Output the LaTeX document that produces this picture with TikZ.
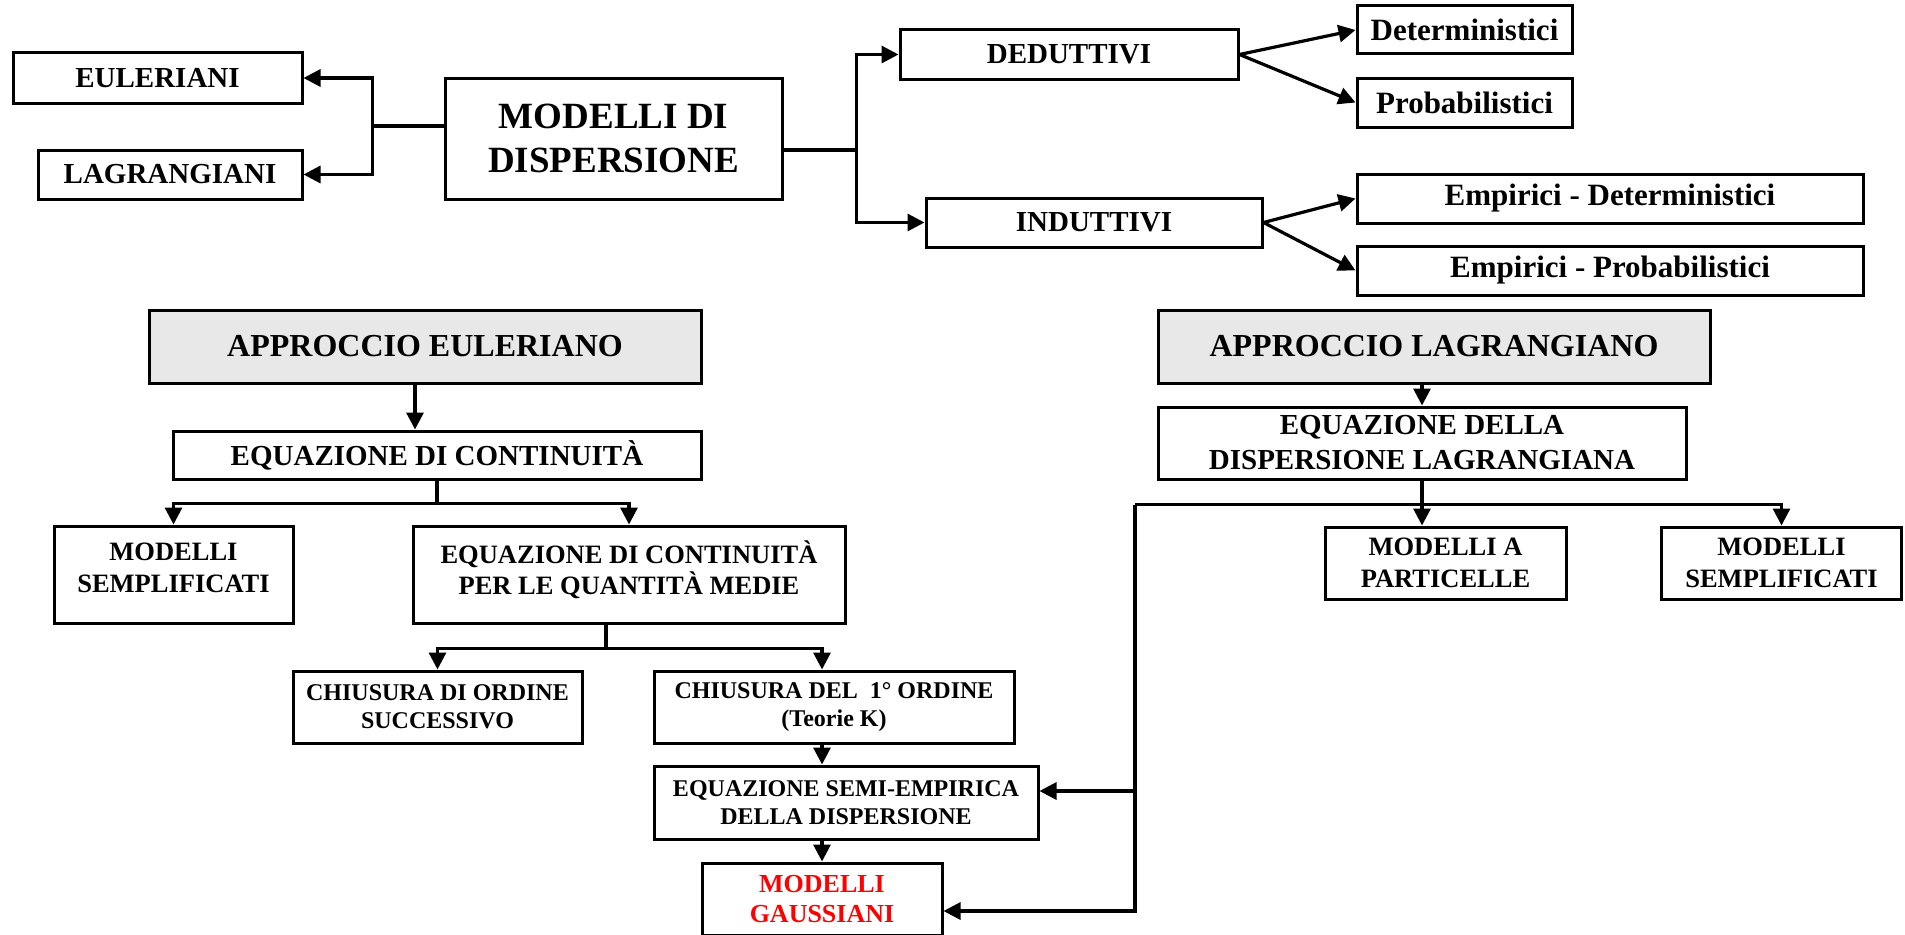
\documentclass[tikz,border=0pt]{standalone}
\usepackage{fontspec}
\setmainfont{Liberation Serif}
\usepackage{tikz}
\usetikzlibrary{calc,arrows.meta}
\definecolor{boxgray}{HTML}{E8E8E8}
\tikzset{
	mbox/.style={draw=black,line width=3pt,inner sep=0pt,align=center},
	gbox/.style={mbox,fill=boxgray},
	conn/.style={draw=black,line width=3.2pt},
	carrow/.style={conn,-{Triangle[length=17pt,width=17pt]}},
	tbig/.style={font=\fontsize{37}{44}\selectfont\bfseries},
	thead/.style={font=\fontsize{32}{38}\selectfont\bfseries},
	tkind/.style={font=\fontsize{31}{37}\selectfont\bfseries},
	tmid/.style={font=\fontsize{29}{35}\selectfont\bfseries},
	tsmall/.style={font=\fontsize{26.5}{31.5}\selectfont\bfseries},
	ttiny/.style={font=\fontsize{24}{28}\selectfont\bfseries}
}

\begin{document}
\begin{tikzpicture}[x=1pt,y=-1pt]
	\useasboundingbox (0,0) rectangle (1905,934);
	\clip (0,0) rectangle (1905,934);
	
	% classificazione
	\node[mbox,tbig,minimum width=337pt,minimum height=121pt] (mod) at (613.5,138.5) {MODELLI DI\\DISPERSIONE};
	\node[mbox,tmid,minimum width=289pt,minimum height=50pt] (eul) at (157.5,78) {EULERIANI};
	\node[mbox,tmid,minimum width=264pt,minimum height=49pt] (lag) at (170,174.5) {LAGRANGIANI};
	\node[mbox,tmid,minimum width=338pt,minimum height=49pt] (ded) at (1069,54.5) {DEDUTTIVI};
	\node[mbox,tmid,minimum width=336pt,minimum height=49pt] (ind) at (1094,222.5) {INDUTTIVI};
	\node[mbox,tkind,minimum width=215pt,minimum height=48pt] (det) at (1464.5,30) {Deterministici};
	\node[mbox,tkind,minimum width=215pt,minimum height=49pt] (prob) at (1464.5,102.5) {Probabilistici};
	\node[mbox,tkind,minimum width=506pt,minimum height=49pt] (empdet) at (1610,198.5) {Empirici - Deterministici};
	\node[mbox,tkind,minimum width=506pt,minimum height=49pt] (empprob) at (1610,270.5) {Empirici - Probabilistici};
	
	\draw[conn] ([yshift=12.5pt]mod.west) -- ++(-71,0) coordinate (lfork);
	\draw[carrow] (lfork) |- (eul.east);
	\draw[carrow] (lfork) |- (lag.east);
	\draw[conn] ([yshift=-11.5pt]mod.east) -- ++(73,0) coordinate (rfork);
	\draw[carrow] (rfork) |- (ded.west);
	\draw[carrow] (rfork) |- (ind.west);
	\draw[carrow] (ded.east) -- (det.west);
	\draw[carrow] (ded.east) -- (prob.west);
	\draw[carrow] (ind.east) -- (empdet.west);
	\draw[carrow] (ind.east) -- (empprob.west);
	
	% approccio euleriano
	\node[gbox,thead,minimum width=552pt,minimum height=73pt] (appeul) at (425,346.5) {APPROCCIO EULERIANO};
	\node[mbox,tmid,minimum width=528pt,minimum height=48pt] (eqcont) at (437,455) {EQUAZIONE DI CONTINUITÀ};
	\node[mbox,tsmall,minimum width=239pt,minimum height=97pt] (semple) at (173.5,574.5) {MODELLI\\SEMPLIFICATI\\[-18pt]{}};
	\node[mbox,tsmall,minimum width=432pt,minimum height=97pt] (eqmed) at (629,574.5) {EQUAZIONE DI CONTINUITÀ\\PER LE QUANTITÀ MEDIE\\[-18pt]{}};
	\node[mbox,ttiny,minimum width=289pt,minimum height=72pt] (chsucc) at (437.5,707) {CHIUSURA DI ORDINE\\SUCCESSIVO};
	\node[mbox,ttiny,minimum width=360pt,minimum height=72pt] (chprimo) at (834,707) {CHIUSURA DEL\ \ 1° ORDINE\\(Teorie K)};
	\node[mbox,ttiny,minimum width=384pt,minimum height=73pt] (semiemp) at (846,802.5) {EQUAZIONE SEMI-EMPIRICA\\DELLA DISPERSIONE};
	\node[mbox,font=\fontsize{26}{30}\selectfont\bfseries,text=red,minimum width=240pt,minimum height=72pt] (gauss) at (822,899) {MODELLI\\GAUSSIANI};
	
	\draw[carrow] ([xshift=-10pt]appeul.south) -- ([xshift=-10pt]appeul.south |- eqcont.north);
	\draw[conn] (eqcont.south) -- ++(0,23) coordinate (efork);
	\draw[carrow] (efork) -| (semple.north);
	\draw[carrow] (efork) -| (eqmed.north);
	\draw[conn] ([xshift=-23pt]eqmed.south) -- ++(0,24) coordinate (mfork);
	\draw[carrow] (mfork) -| (chsucc.north);
	\draw[carrow] (mfork) -| ([xshift=-12pt]chprimo.north);
	\draw[carrow] ([xshift=-12pt]chprimo.south) -- ([xshift=-12pt]chprimo.south |- semiemp.north);
	\draw[carrow] (gauss.north |- semiemp.south) -- (gauss.north);
	
	% approccio lagrangiano
	\node[gbox,thead,minimum width=552pt,minimum height=73pt] (applag) at (1434,346.5) {APPROCCIO LAGRANGIANO};
	\node[mbox,tmid,minimum width=528pt,minimum height=72pt] (eqlag) at (1422,443) {EQUAZIONE DELLA\\DISPERSIONE LAGRANGIANA};
	\node[mbox,tsmall,minimum width=241pt,minimum height=72pt] (part) at (1445.5,563) {MODELLI A\\PARTICELLE};
	\node[mbox,tsmall,minimum width=240pt,minimum height=72pt] (sempll) at (1781.5,563) {MODELLI\\SEMPLIFICATI};
	
	\draw[carrow] (eqlag.north |- applag.south) -- (eqlag.north);
	\draw[conn] (eqlag.south) -- ++(0,24) coordinate (lagfork);
	\draw[carrow] (lagfork) -- (lagfork |- part.north);
	\draw[carrow] (lagfork) -| (sempll.north);
	\draw[conn] (lagfork) -- ++(-287,0) coordinate (lagdown);
	\draw[carrow] (lagdown) |- ([yshift=11.5pt]semiemp.east);
	\draw[carrow] (lagdown) |- ([yshift=-12pt]gauss.east);
\end{tikzpicture}
\end{document}
